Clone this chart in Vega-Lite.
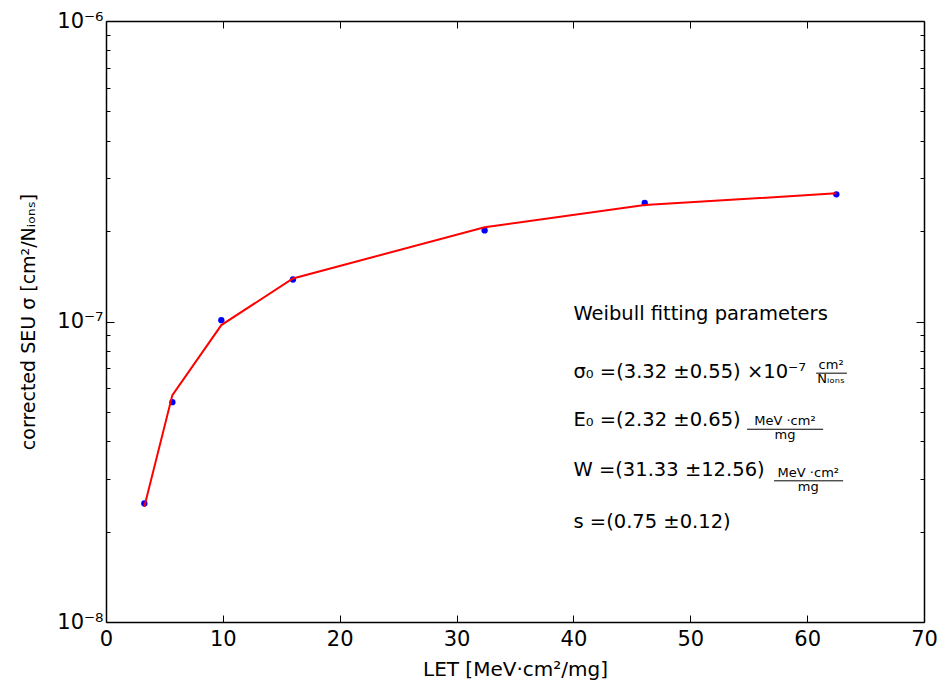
{
  "$schema": "https://vega.github.io/schema/vega-lite/v6.json",
  "width": 818,
  "height": 601,
  "autosize": {"type": "none"},
  "padding": {"left": 106, "top": 21, "right": 13, "bottom": 61},
  "background": "white",
  "config": {
    "view": {"stroke": null},
    "font": "DejaVu Sans",
    "axis": {
      "domainColor": "black",
      "domainWidth": 1.5,
      "tickColor": "black",
      "tickWidth": 1,
      "labelColor": "black",
      "titleColor": "black",
      "labelFont": "DejaVu Sans",
      "titleFont": "DejaVu Sans",
      "labelFontSize": 21,
      "titleFontSize": 20,
      "titleFontWeight": "normal",
      "grid": false,
      "labelOverlap": false,
      "labelFlush": false
    }
  },
  "datasets": {
    "measured": [
      {"LET": 3.28, "sigma": 2.48e-8},
      {"LET": 5.68, "sigma": 5.39e-8},
      {"LET": 9.87, "sigma": 1.01e-7},
      {"LET": 16.0, "sigma": 1.38e-7},
      {"LET": 32.4, "sigma": 2.01e-7},
      {"LET": 46.1, "sigma": 2.48e-7},
      {"LET": 62.5, "sigma": 2.65e-7}
    ],
    "fit": [
      {"LET": 3.28, "sigma": 2.42e-8},
      {"LET": 5.68, "sigma": 5.69e-8},
      {"LET": 9.87, "sigma": 9.73e-8},
      {"LET": 16.0, "sigma": 1.39e-7},
      {"LET": 32.4, "sigma": 2.06e-7},
      {"LET": 46.1, "sigma": 2.44e-7},
      {"LET": 62.5, "sigma": 2.67e-7}
    ],
    "notes": [
      {"x": 40, "y": 1.056e-7, "t": "Weibull fitting parameters"},
      {"x": 40, "y": 6.78e-8, "t": "σ₀ =(3.32 ±0.55) ×10⁻⁷"},
      {"x": 40, "y": 4.70e-8, "t": "E₀ =(2.32 ±0.65)"},
      {"x": 40, "y": 3.20e-8, "t": "W =(31.33 ±12.56)"},
      {"x": 40, "y": 2.15e-8, "t": "s =(0.75 ±0.12)"}
    ],
    "fractions": [
      {"xc": 62.05, "x1": 60.77, "x2": 63.4, "y": 6.73e-8, "num": "cm²", "den": "Nᵢₒₙₛ"},
      {"xc": 58.1, "x1": 54.86, "x2": 61.37, "y": 4.38e-8, "num": "MeV ·cm²", "den": "mg"},
      {"xc": 60.1, "x1": 57.17, "x2": 63.08, "y": 2.95e-8, "num": "MeV ·cm²", "den": "mg"}
    ]
  },
  "layer": [
    {
      "data": {"name": "measured"},
      "mark": {"type": "point", "filled": true, "color": "#0000ff", "size": 40, "opacity": 1},
      "encoding": {
        "x": {
          "field": "LET", "type": "quantitative",
          "scale": {"domain": [0, 70], "nice": false, "zero": false},
          "axis": {
            "orient": "bottom",
            "values": [0, 10, 20, 30, 40, 50, 60, 70],
            "tickSize": -7,
            "labelPadding": 13,
            "title": "LET [MeV·cm²/mg]",
            "titlePadding": 10
          }
        },
        "y": {
          "field": "sigma", "type": "quantitative",
          "scale": {"type": "log", "domain": [1e-8, 1e-6], "nice": false},
          "axis": {
            "orient": "left",
            "values": [1e-8, 2e-8, 3e-8, 4e-8, 5e-8, 6e-8, 7e-8, 8e-8, 9e-8, 1e-7, 2e-7, 3e-7, 4e-7, 5e-7, 6e-7, 7e-7, 8e-7, 9e-7, 1e-6],
            "labelExpr": "datum.value < 1.5e-8 ? '10⁻⁸' : (abs(datum.value - 1e-7) < 1e-9 ? '10⁻⁷' : (datum.value > 9.5e-7 ? '10⁻⁶' : ''))",
            "tickSize": {"condition": {"test": "datum.value < 1.5e-8 || abs(datum.value - 1e-7) < 1e-9 || datum.value > 9.5e-7", "value": -8}, "value": -4},
            "labelPadding": 11,
            "title": "corrected SEU σ [cm²/Nᵢₒₙₛ]",
            "titleFontSize": 19,
            "titlePadding": 18
          }
        }
      }
    },
    {
      "data": {"name": "fit"},
      "mark": {"type": "line", "color": "#ff0000", "strokeWidth": 2},
      "encoding": {
        "x": {
          "field": "LET", "type": "quantitative",
          "scale": {"domain": [0, 70], "nice": false, "zero": false},
          "axis": {"orient": "top", "values": [0, 10, 20, 30, 40, 50, 60, 70], "tickSize": -7, "labels": false, "title": null}
        },
        "y": {
          "field": "sigma", "type": "quantitative",
          "scale": {"type": "log", "domain": [1e-8, 1e-6], "nice": false},
          "axis": {
            "orient": "right",
            "values": [1e-8, 2e-8, 3e-8, 4e-8, 5e-8, 6e-8, 7e-8, 8e-8, 9e-8, 1e-7, 2e-7, 3e-7, 4e-7, 5e-7, 6e-7, 7e-7, 8e-7, 9e-7, 1e-6],
            "tickSize": {"condition": {"test": "datum.value < 1.5e-8 || abs(datum.value - 1e-7) < 1e-9 || datum.value > 9.5e-7", "value": -8}, "value": -4},
            "labels": false,
            "title": null
          }
        }
      }
    },
    {
      "data": {"name": "notes"},
      "mark": {"type": "text", "align": "left", "baseline": "middle", "fontSize": 19.5, "font": "DejaVu Sans", "color": "black"},
      "encoding": {
        "x": {"field": "x", "type": "quantitative", "scale": {"domain": [0, 70], "nice": false, "zero": false}, "axis": null},
        "y": {"field": "y", "type": "quantitative", "scale": {"type": "log", "domain": [1e-8, 1e-6], "nice": false}, "axis": null},
        "text": {"field": "t"}
      }
    },
    {
      "data": {"name": "fractions"},
      "mark": {"type": "text", "align": "center", "baseline": "bottom", "dy": -1, "fontSize": 13, "font": "DejaVu Sans", "color": "black"},
      "encoding": {
        "x": {"field": "xc", "type": "quantitative", "scale": {"domain": [0, 70], "nice": false, "zero": false}, "axis": null},
        "y": {"field": "y", "type": "quantitative", "scale": {"type": "log", "domain": [1e-8, 1e-6], "nice": false}, "axis": null},
        "text": {"field": "num"}
      }
    },
    {
      "data": {"name": "fractions"},
      "mark": {"type": "text", "align": "center", "baseline": "top", "dy": 0, "fontSize": 13, "font": "DejaVu Sans", "color": "black"},
      "encoding": {
        "x": {"field": "xc", "type": "quantitative", "scale": {"domain": [0, 70], "nice": false, "zero": false}, "axis": null},
        "y": {"field": "y", "type": "quantitative", "scale": {"type": "log", "domain": [1e-8, 1e-6], "nice": false}, "axis": null},
        "text": {"field": "den"}
      }
    },
    {
      "data": {"name": "fractions"},
      "mark": {"type": "rule", "color": "black", "strokeWidth": 1},
      "encoding": {
        "x": {"field": "x1", "type": "quantitative", "scale": {"domain": [0, 70], "nice": false, "zero": false}, "axis": null},
        "x2": {"field": "x2"},
        "y": {"field": "y", "type": "quantitative", "scale": {"type": "log", "domain": [1e-8, 1e-6], "nice": false}, "axis": null}
      }
    }
  ],
  "resolve": {"scale": {"x": "independent", "y": "independent"}}
}
